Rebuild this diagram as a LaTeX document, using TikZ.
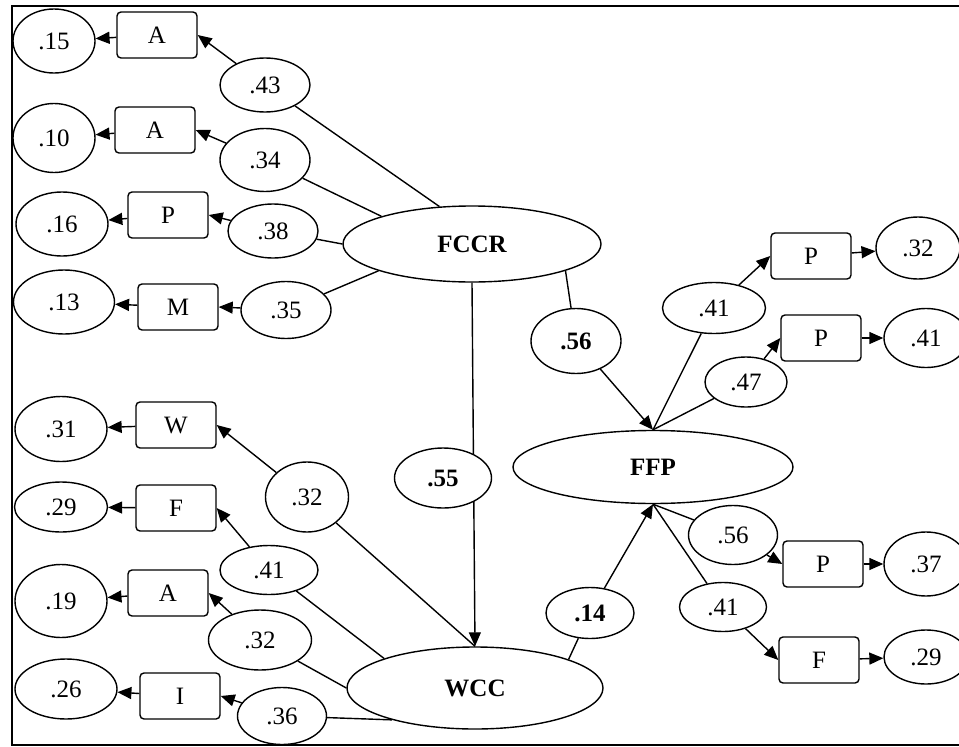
\documentclass[tikz,border=0pt]{standalone}
\usepackage{fontspec}
\setmainfont{Liberation Serif}
\usetikzlibrary{arrows.meta,shapes.geometric}

\begin{document}
\begin{tikzpicture}[x=1pt,y=-1pt,>={Triangle[length=14pt,width=12pt]},line width=1.4pt,
	every node/.style={font=\fontsize{25}{29}\selectfont,inner sep=0pt},
	err/.style={draw,ellipse,minimum width=92pt,minimum height=64pt},
	ind/.style={draw,rectangle,rounded corners=4pt,minimum width=80pt,minimum height=46pt},
	wt/.style={draw,ellipse,fill=white,minimum width=90pt,minimum height=54pt},
	bwt/.style={wt,font=\fontsize{25}{29}\selectfont\bfseries},
	fac/.style={draw,ellipse,minimum width=258pt,minimum height=76pt,font=\fontsize{25}{29}\selectfont\bfseries}]

\useasboundingbox (0,0) rectangle (959,747);
\clip (0,0) rectangle (959,747);
\draw[line width=1.6pt] (12,6) rectangle (1000,745);

% FCCR block
\node[fac]   (FCCR) at (472,244)   {FCCR};
 \node[err] (e1) at (54,41) [minimum width=82pt]   {.15};
	\node[ind] (x1) at (157,35)   {A};
	\node[wt]  (w1) at (265,85)   {.43};
 \node[err] (e2) at (54,138) [minimum width=82pt,minimum height=69pt]   {.10};
	\node[ind] (x2) at (155,130)   {A};
	\node[wt]  (w2) at (265,160) [minimum height=63pt]   {.34};
 \node[err] (e3) at (62,224)   {.16};
	\node[ind] (x3) at (168,215)   {P};
	\node[wt]  (w3) at (273,231)   {.38};
 \node[err] (e4) at (64,302) [minimum width=101pt]   {.13};
	\node[ind] (x4) at (178,307)   {M};
	\node[wt]  (w4) at (286,310) [minimum height=57pt]   {.35};

% WCC block
\node[fac]   (WCC) at (475,688) [minimum width=256pt,minimum height=82pt]   {WCC};
 \node[err] (e5) at (61,429) [minimum height=65pt]   {.31};
	\node[ind] (x5) at (176,425)   {W};
	\node[wt]  (w5) at (307,497) [minimum width=83pt,minimum height=70pt]   {.32};
 \node[err] (e6) at (61,507) [minimum width=93pt,minimum height=50pt]   {.29};
	\node[ind] (x6) at (176,508)   {F};
	\node[wt]  (w6) at (269,570) [minimum width=98pt,minimum height=49pt]   {.41};
 \node[err] (e7) at (61,601) [minimum height=73pt]   {.19};
	\node[ind] (x7) at (168,593)   {A};
	\node[wt]  (w7) at (260,640) [minimum width=103pt,minimum height=60pt]   {.32};
 \node[err] (e8) at (66,689) [minimum width=102pt,minimum height=60pt]   {.26};
	\node[ind] (x8) at (180,696)   {I};
	\node[wt]  (w8) at (282,716) [minimum width=89pt,minimum height=57pt]   {.36};

% FFP block
\node[fac]   (FFP) at (653,467) [minimum width=280pt,minimum height=73pt]   {FFP};
 \node[ind] (x9) at (811,256)   {P};
	\node[err] (e9) at (918,248) [minimum width=84pt,minimum height=62pt]   {.32};
	\node[wt]  (w9) at (714,308) [minimum width=103pt,minimum height=51pt]   {.41};
 \node[ind] (x10) at (821,338)   {P};
	\node[err] (e10) at (926,338) [minimum width=84pt,minimum height=59pt]   {.41};
	\node[wt]  (w10) at (746,382) [minimum width=82pt,minimum height=50pt]   {.47};
 \node[ind] (x11) at (823,564)   {P};
	\node[err] (e11) at (926,564) [minimum width=84pt,minimum height=64pt]   {.37};
	\node[wt]  (w11) at (733,535) [minimum width=89pt,minimum height=59pt]   {.56};
 \node[ind] (x12) at (819,660)   {F};
	\node[err] (e12) at (926,657) [minimum width=84pt,minimum height=54pt]   {.29};
	\node[wt]  (w12) at (723,607) [minimum width=87pt,minimum height=49pt]   {.41};

\node[bwt] (b1) at (576,341) [minimum height=65pt]   {.56};
\node[bwt] (b3) at (590,613) [minimum width=88pt,minimum height=51pt]   {.14};

	\path[->] (x1) edge (e1)   (x2) edge (e2)   (x3) edge (e3)   (x4) edge (e4)
				(x5) edge (e5)   (x6) edge (e6)   (x7) edge (e7)   (x8) edge (e8)
				(x9) edge (e9)   (x10) edge (e10)   (x11) edge (e11)   (x12) edge (e12);

	\path (FCCR.131) edge (w1)   (FCCR.163) edge (w2)
				(FCCR.west) edge (w3)   (FCCR.196) edge (w4)
				(WCC.north) edge (w5)   (WCC.162) edge (w6)
				(WCC.west) edge (w7)   (WCC.201) edge (w8)
				(FFP.north) edge (w9)
							edge (w10)
				(FFP.south) edge (w11)
							edge (w12)
				(FCCR.344) edge (b1)   (WCC.17) edge (b3);

	\path[->] (w1) edge (x1.east)   (w2) edge (x2.east)
				(w3) edge (x3.east)   (w4) edge (x4.east)
				(w5) edge (x5.east)   (w6) edge (x6.east)
				(w7) edge (x7.east)   (w8) edge (x8.east)
				(w9) edge (x9.west)   (w10) edge (x10.west)
				(w11) edge (x11.west)   (w12) edge (x12.west)
				(b1) edge (FFP.north)   (b3) edge (FFP.south)
				(FCCR.south) edge (WCC.north);

\node[bwt] (b2) at (443,478) [minimum width=97pt,minimum height=60pt]   {.55};

\end{tikzpicture}
\end{document}
